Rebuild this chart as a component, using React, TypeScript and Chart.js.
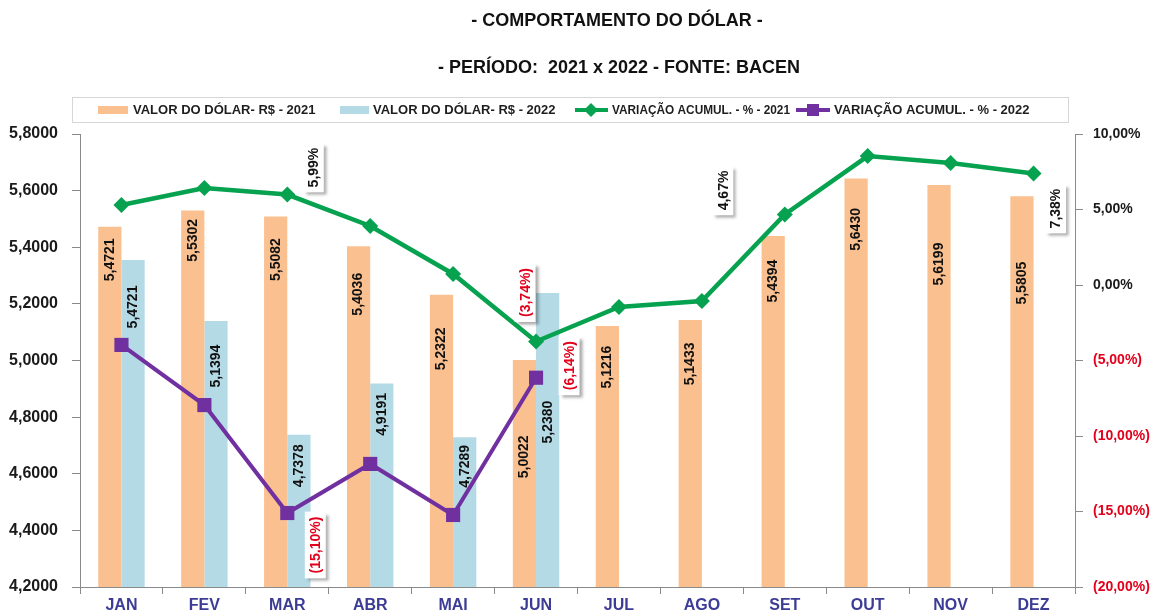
import React, { useEffect, useRef } from 'react';
import { Chart, registerables } from 'chart.js';

Chart.register(...registerables);

const FONT = '"Liberation Sans", Arial, sans-serif';

const months = ['JAN', 'FEV', 'MAR', 'ABR', 'MAI', 'JUN', 'JUL', 'AGO', 'SET', 'OUT', 'NOV', 'DEZ'];
const dolar2021 = [5.4721, 5.5302, 5.5082, 5.4036, 5.2322, 5.0022, 5.1216, 5.1433, 5.4394, 5.643, 5.6199, 5.5805];
const dolar2022 = [5.355, 5.1394, 4.7378, 4.9191, 4.7289, 5.238, null, null, null, null, null, null];
const dolar2021Labels = ['5,4721', '5,5302', '5,5082', '5,4036', '5,2322', '5,0022', '5,1216', '5,1433', '5,4394', '5,6430', '5,6199', '5,5805'];
const dolar2022Labels = ['5,4721', '5,1394', '4,7378', '4,9191', '4,7289', '5,2380'];
const varAcum2021 = [5.3, 6.42, 5.99, 3.91, 0.73, -3.74, -1.46, -1.06, 4.67, 8.54, 8.08, 7.38];
const varAcum2022 = [-3.97, -7.95, -15.1, -11.85, -15.23, -6.14];
const labelled2021 = [2, 5, 8, 11];
const labelled2022 = [2, 5];

const titleLines = ['- COMPORTAMENTO DO DÓLAR -', '- PERÍODO:  2021 x 2022 - FONTE: BACEN'];
const legendItems = ['VALOR DO DÓLAR- R$ - 2021', 'VALOR DO DÓLAR- R$ - 2022', 'VARIAÇÃO ACUMUL. - % - 2021', 'VARIAÇÃO ACUMUL. - % - 2022'];

const COLORS = {
  orange: '#FAC090',
  blue: '#B4DAE6',
  green: '#06A24F',
  purple: '#7030A0',
  red: '#E3001B',
  axis: '#8a8a8a',
  xText: '#3C3C96',
};

// label placement tweaks (pixels)
const barLabelOffset2021 = [33, 30, 43, 48, 54, 97, 41, 44, 45, 51, 79, 87];
const barLabelOffset2022 = [47, 45, 31, 31, 29, 129];
const lineLabelOffset2021: Record<number, [number, number]> = { 2: [26, -27], 5: [-11, -49], 8: [-62, -24], 11: [22, 35] };
const lineLabelOffset2022: Record<number, [number, number]> = { 2: [28, 32], 5: [33, -12] };

const fmtNum = (v: number, d: number) => v.toFixed(d).replace('.', ',');
const fmtPct = (v: number) => (v < 0 ? `(${fmtNum(-v, 2)}%)` : `${fmtNum(v, 2)}%`);

const headerPlugin = {
  id: 'header',
  afterDraw(chart: any) {
    const ctx = chart.ctx as CanvasRenderingContext2D;
    ctx.save();
    ctx.fillStyle = '#111';
    ctx.font = `bold 18px ${FONT}`;
    ctx.textAlign = 'center';
    ctx.textBaseline = 'middle';
    ctx.fillText(titleLines[0], 617, 21);
    ctx.fillText(titleLines[1], 619, 68);

    // legend box
    ctx.strokeStyle = '#d6d6d6';
    ctx.lineWidth = 1;
    ctx.strokeRect(72.5, 97.5, 996, 25);
    ctx.font = `bold 13px ${FONT}`;
    ctx.textAlign = 'left';
    const ly = 110;
    const txt = '#1e1e1e';
    // item 1
    ctx.fillStyle = COLORS.orange;
    ctx.fillRect(98, 106, 30, 8);
    ctx.fillStyle = txt;
    ctx.fillText(legendItems[0], 133, ly);
    // item 2
    ctx.fillStyle = COLORS.blue;
    ctx.fillRect(340, 106, 29, 8);
    ctx.fillStyle = txt;
    ctx.fillText(legendItems[1], 373, ly);
    // item 3
    ctx.strokeStyle = COLORS.green;
    ctx.lineWidth = 4;
    ctx.beginPath();
    ctx.moveTo(575, ly);
    ctx.lineTo(608, ly);
    ctx.stroke();
    ctx.fillStyle = COLORS.green;
    ctx.beginPath();
    ctx.moveTo(591, ly - 7);
    ctx.lineTo(598, ly);
    ctx.lineTo(591, ly + 7);
    ctx.lineTo(584, ly);
    ctx.closePath();
    ctx.fill();
    ctx.fillStyle = txt;
    ctx.fillText(legendItems[2], 612, ly, 178);
    // item 4
    ctx.strokeStyle = COLORS.purple;
    ctx.beginPath();
    ctx.moveTo(796, ly);
    ctx.lineTo(830, ly);
    ctx.stroke();
    ctx.fillStyle = COLORS.purple;
    ctx.fillRect(807, ly - 6, 12, 12);
    ctx.fillStyle = txt;
    ctx.fillText(legendItems[3], 834, ly);
    ctx.restore();
  },
};

const labelsPlugin = {
  id: 'valueLabels',
  afterDatasetsDraw(chart: any) {
    const ctx = chart.ctx as CanvasRenderingContext2D;
    ctx.save();
    ctx.font = `bold 14px ${FONT}`;
    ctx.textAlign = 'center';
    ctx.textBaseline = 'middle';
    const barSets: [number, string[], number[]][] = [
      [0, dolar2021Labels, barLabelOffset2021],
      [1, dolar2022Labels, barLabelOffset2022],
    ];
    barSets.forEach(([di, labels, offs]) => {
      const meta = chart.getDatasetMeta(di);
      const data = chart.data.datasets[di].data;
      meta.data.forEach((el: any, j: number) => {
        if (data[j] == null || labels[j] == null) return;
        ctx.save();
        ctx.translate(el.x, el.y + offs[j]);
        ctx.rotate(-Math.PI / 2);
        ctx.fillStyle = '#111';
        ctx.fillText(labels[j], 0, 0);
        ctx.restore();
      });
    });

    const lineSets: [number, number[], Record<number, [number, number]>][] = [
      [2, labelled2021, lineLabelOffset2021],
      [3, labelled2022, lineLabelOffset2022],
    ];
    lineSets.forEach(([di, idxs, offs]) => {
      const meta = chart.getDatasetMeta(di);
      const data = chart.data.datasets[di].data as number[];
      idxs.forEach((j) => {
        const el = meta.data[j];
        if (!el) return;
        const v = data[j];
        const text = fmtPct(v);
        const [dx, dy] = offs[j];
        const cx = el.x + dx;
        const cy = el.y + dy;
        const w = ctx.measureText(text).width;
        const bh = w + 10;
        const bw = 21;
        ctx.save();
        ctx.shadowColor = 'rgba(0,0,0,0.35)';
        ctx.shadowBlur = 3;
        ctx.shadowOffsetX = 3;
        ctx.shadowOffsetY = 3;
        ctx.fillStyle = '#ffffff';
        ctx.fillRect(cx - bw / 2, cy - bh / 2, bw, bh);
        ctx.restore();
        ctx.save();
        ctx.translate(cx, cy);
        ctx.rotate(-Math.PI / 2);
        ctx.fillStyle = v < 0 ? COLORS.red : '#111';
        ctx.fillText(text, 0, 1);
        ctx.restore();
      });
    });
    ctx.restore();
  },
};

export default function App() {
  const ref = useRef<HTMLCanvasElement | null>(null);
  useEffect(() => {
    if (!ref.current) return;
    Chart.defaults.font.family = FONT;
    const chart = new Chart(ref.current, {
      type: 'bar',
      data: {
        labels: months,
        datasets: [
          {
            type: 'bar',
            label: legendItems[0],
            data: dolar2021,
            backgroundColor: COLORS.orange,
            yAxisID: 'y',
            order: 2,
            categoryPercentage: 0.56,
            barPercentage: 1,
          },
          {
            type: 'bar',
            label: legendItems[1],
            data: dolar2022,
            backgroundColor: COLORS.blue,
            yAxisID: 'y',
            order: 2,
            categoryPercentage: 0.56,
            barPercentage: 1,
          },
          {
            type: 'line',
            label: legendItems[2],
            data: varAcum2021,
            borderColor: COLORS.green,
            backgroundColor: COLORS.green,
            borderWidth: 4.5,
            pointStyle: 'rectRot',
            pointRadius: 8,
            pointBorderWidth: 0,
            yAxisID: 'y1',
            order: 1,
            tension: 0,
          },
          {
            type: 'line',
            label: legendItems[3],
            data: varAcum2022,
            borderColor: COLORS.purple,
            backgroundColor: COLORS.purple,
            borderWidth: 4,
            pointStyle: 'rect',
            pointRadius: 10,
            pointBorderWidth: 0,
            yAxisID: 'y1',
            order: 1,
            tension: 0,
          },
        ] as any,
      },
      options: {
        responsive: false,
        animation: false,
        layout: { padding: { top: 134, left: 0, right: 0, bottom: 0 } },
        plugins: {
          legend: { display: false },
          title: { display: false },
          tooltip: { enabled: false },
        },
        scales: {
          x: {
            offset: true,
            grid: {
              display: true,
              drawOnChartArea: false,
              drawTicks: true,
              tickLength: 7,
              offset: true,
              color: COLORS.axis,
            },
            border: { color: COLORS.axis },
            ticks: {
              color: COLORS.xText,
              font: { size: 16, weight: 'bold' },
              padding: 2,
              maxRotation: 0,
            },
            afterFit: (s: any) => {
              s.height = 28;
            },
          },
          y: {
            position: 'left',
            min: 4.2,
            max: 5.8,
            grid: { drawOnChartArea: false, tickLength: 8, color: COLORS.axis },
            border: { color: COLORS.axis },
            ticks: {
              stepSize: 0.2,
              color: '#1a1a1a',
              font: { size: 16, weight: 'bold' },
              padding: 14,
              callback: (v: any) => fmtNum(Number(v), 4),
            },
            afterFit: (s: any) => {
              s.width = 80;
            },
          },
          y1: {
            position: 'right',
            min: -20,
            max: 10,
            grid: { drawOnChartArea: false, tickLength: 8, color: COLORS.axis },
            border: { color: COLORS.axis },
            ticks: {
              stepSize: 5,
              font: { size: 14, weight: 'bold' },
              padding: 10,
              color: (c: any) => (c.tick && c.tick.value < 0 ? COLORS.red : '#1a1a1a'),
              callback: (v: any) => fmtPct(Number(v)),
            },
            afterFit: (s: any) => {
              s.width = 79;
            },
          },
        },
      } as any,
      plugins: [headerPlugin, labelsPlugin],
    });
    return () => chart.destroy();
  }, []);

  return (
    <div style={{ position: 'absolute', left: 0, top: 0, width: 1154, height: 615, background: '#fff' }}>
      <canvas ref={ref} width={1154} height={615} style={{ width: 1154, height: 615, display: 'block' }} />
    </div>
  );
}
